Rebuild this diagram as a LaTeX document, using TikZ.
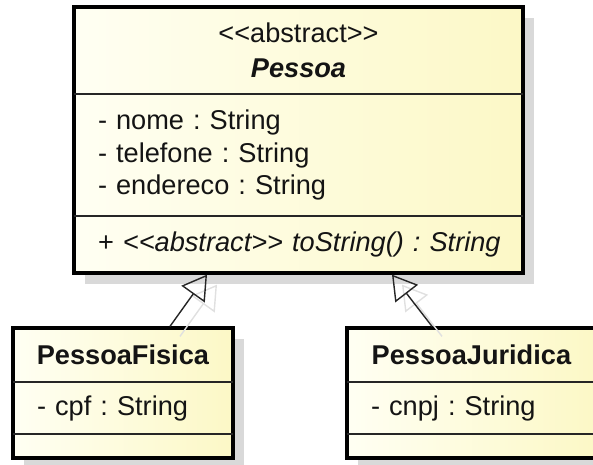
\documentclass[tikz,border=0pt]{standalone}
\usepackage{fontspec}
\setmainfont{Liberation Sans}
\usetikzlibrary{arrows.meta,positioning,fit,backgrounds}
\definecolor{classfillA}{HTML}{FFFFF3}
\definecolor{classfillB}{HTML}{FCF8C6}
\definecolor{shadowgray}{HTML}{D9D9D9}
\definecolor{inkgray}{HTML}{141414}
\newcommand{\stereo}[1]{<\kern0pt<#1>\kern0pt>}

\begin{document}
\frenchspacing
\begin{tikzpicture}[
  comp/.style={inner sep=0pt, outer sep=0pt, text=inkgray, font=\fontsize{23.2}{28}\selectfont},
  headcomp/.style={comp, align=center},
  listcomp/.style={comp, align=left, inner xsep=0.72cm, text width=#1},
  classbox/.style={draw=black, line width=2.8pt, inner sep=0pt, left color=classfillA, right color=classfillB},
  divider/.style={draw=black!85, line width=1.2pt},
  inherit/.style={-{Triangle[open, length=0.72cm, width=0.86cm]}, draw=black!85, line width=1.2pt},
  inheritshadow/.style={inherit, draw=black!12}]
\useasboundingbox (0,0) rectangle (17.79,-13.95);
\clip (0,0) rectangle (17.79,-13.95);

% abstract superclass
\node[headcomp, minimum width=13.47cm, minimum height=2.61cm, anchor=north] (pessoa-head) at (8.955,-0.21) {\stereo{abstract}\\[2pt]\textbf{\textit{Pessoa}}};
\node[listcomp=12.03cm, minimum height=3.66cm, below=0pt of pessoa-head] (pessoa-attr) {- nome : String\\- telefone : String\\- endereco : String};
\node[listcomp=12.03cm, minimum height=1.71cm, below=0pt of pessoa-attr] (pessoa-ops) {\mbox{+ \textit{\stereo{abstract} toString() : String}}};

% subclasses
\node[headcomp, minimum width=6.6cm, minimum height=1.62cm, anchor=north] (fisica-head) at (3.69,-9.84) {\textbf{PessoaFisica}};
\node[listcomp=5.16cm, minimum height=1.56cm, below=0pt of fisica-head] (fisica-attr) {- cpf : String};
\node[comp, minimum width=6.6cm, minimum height=0.72cm, below=0pt of fisica-attr] (fisica-ops) {};

\node[headcomp, minimum width=7.47cm, minimum height=1.62cm, anchor=north] (juridica-head) at (14.145,-9.84) {\textbf{PessoaJuridica}};
\node[listcomp=6.03cm, minimum height=1.56cm, below=0pt of juridica-head] (juridica-attr) {- cnpj : String};
\node[comp, minimum width=7.47cm, minimum height=0.72cm, below=0pt of juridica-attr] (juridica-ops) {};

% frames, fills and drop shadows behind the text
\begin{scope}[on background layer]
\foreach \c in {pessoa,fisica,juridica} {
  \fill[shadowgray] ([shift={(0.33,-0.33)}]\c-ops.south west) rectangle ([shift={(0.33,-0.33)}]\c-head.north east);
  \node[classbox, fit=(\c-head)(\c-ops)] (\c) {};
}
\draw[inheritshadow] ([xshift=1.71cm, yshift=-0.3cm]fisica.north) -- ([xshift=-2.445cm, yshift=-0.3cm]pessoa.south);
\draw[inheritshadow] ([xshift=-0.885cm, yshift=-0.3cm]juridica.north) -- ([xshift=3.105cm, yshift=-0.3cm]pessoa.south);
\end{scope}

\foreach \c in {pessoa,fisica,juridica} {
  \draw[divider] (\c-head.south west) -- (\c-head.south east);
  \draw[divider] (\c-attr.south west) -- (\c-attr.south east);
}

% generalisation arrows
\draw[inherit] ([xshift=1.41cm]fisica.north) -- ([xshift=-2.745cm]pessoa.south);
\draw[inherit] ([xshift=-1.185cm]juridica.north) -- ([xshift=2.805cm]pessoa.south);
\end{tikzpicture}
\end{document}
